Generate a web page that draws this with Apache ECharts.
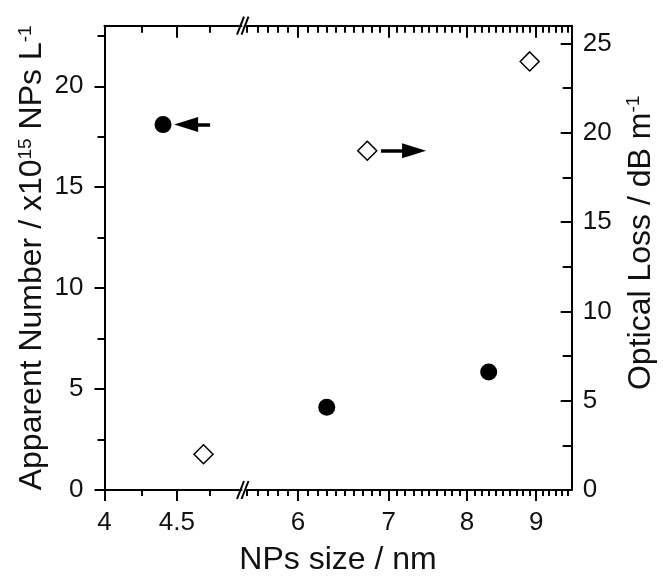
<!DOCTYPE html>
<html><head><meta charset="utf-8">
<script src="https://cdn.jsdelivr.net/npm/echarts@6/dist/echarts.min.js"></script>
<style>html,body{margin:0;padding:0;background:#fff}#c{width:663px;height:579px}</style>
</head><body><div id="c"></div>
<script>
// ---- data ----
const circleSize = [4.4, 6.3, 8.3];          // NPs size / nm (filled circles, left axis)
const apparentNumber = [18.1, 4.1, 5.85];    // x10^15 NPs L^-1
const diamondSize = [4.7, 6.75, 8.9];        // NPs size / nm (open diamonds, right axis)
const opticalLoss = [2.0, 19.0, 24.0];       // dB m^-1

// ---- axes ----
const xLeftRange = [4, 5];
const xRightRange = [5.5, 9.56];
const breakAt = 5.2;
const yLeftRange = [0, 23];
const yRightRange = [0, 26];
const xMajorLeft = [4, 4.5];
const xMinorLeft = [4.25, 4.75];
const xMajorRight = [6, 7, 8, 9];
const xMinorRight = [5.5, 5.6, 5.7, 5.8, 5.9, 6.1, 6.2, 6.3, 6.4, 6.5, 6.6, 6.7, 6.8, 6.9,
  7.1, 7.2, 7.3, 7.4, 7.5, 7.6, 7.7, 7.8, 7.9, 8.1, 8.2, 8.3, 8.4, 8.5, 8.6, 8.7, 8.8, 8.9,
  9.1, 9.2, 9.3, 9.4, 9.5];
const yLeftMajor = [0, 5, 10, 15, 20];
const yLeftMinor = [2.5, 7.5, 12.5, 17.5, 22.5];
const yRightMajor = [0, 5, 10, 15, 20, 25];
const yRightMinor = [2.5, 7.5, 12.5, 17.5, 22.5];

// ---- arrow annotations (data coords) ----
const arrowLeftX = [4.751, 4.569];
const arrowLeftY = [18.1, 18.1];
const arrowRightX = [6.909, 7.31];
const arrowRightY = [19, 19];

const L = v => Math.log10(v);
const FONT = "'Liberation Sans', Arial, sans-serif";
const INK = '#111';
const fmt = v => String(Math.round(Math.pow(10, v) * 100) / 100);

function xAx(grid, range, pos, ticks, len, inside, line, labels) {
  return {
    type: 'value', gridIndex: grid, position: pos,
    min: L(range[0]), max: L(range[1]),
    splitLine: { show: false },
    axisLine: { show: line, onZero: false, lineStyle: { color: '#000', width: 2 } },
    axisTick: { show: true, customValues: ticks.map(L), length: len, inside: inside,
      lineStyle: { color: '#000', width: 2 } },
    axisLabel: labels ? { show: true, customValues: ticks.map(L), formatter: fmt,
      fontSize: 26, color: INK, margin: 20, fontFamily: FONT } : { show: false }
  };
}
function yAx(grid, range, pos, ticks, len, inside, line, labels, margin, extra) {
  return Object.assign({
    type: 'value', gridIndex: grid, position: pos,
    min: range[0], max: range[1],
    splitLine: { show: false },
    axisLine: { show: line, onZero: false, lineStyle: { color: '#000', width: 2 } },
    axisTick: { show: true, customValues: ticks, length: len, inside: inside,
      lineStyle: { color: '#000', width: 2 } },
    axisLabel: labels ? { show: true, customValues: ticks,
      fontSize: 26, color: INK, margin: margin, fontFamily: FONT } : { show: false }
  }, extra || {});
}
function hiddenY(grid, range) {
  return { type: 'value', gridIndex: grid, min: range[0], max: range[1], show: false,
    splitLine: { show: false }, axisLine: { onZero: false } };
}

const richName = {
  a: { fontSize: 32, fontFamily: FONT, color: INK },
  sup: { fontSize: 19, fontFamily: FONT, color: INK, verticalAlign: 'top', padding: [0, 0, 8, 0] }
};

const leftPts = (xs, ys) => xs.map((x, i) => [x, ys[i]]).filter(p => p[0] < breakAt).map(p => [L(p[0]), p[1]]);
const rightPts = (xs, ys) => xs.map((x, i) => [x, ys[i]]).filter(p => p[0] >= breakAt).map(p => [L(p[0]), p[1]]);

const arrowLine = (xs, ys) => ({
  silent: true, animation: false, symbol: ['none', 'triangle'], symbolSize: 18,
  lineStyle: { color: '#000', width: 3.5, type: 'solid', opacity: 1 }, label: { show: false },
  itemStyle: { color: '#000' },
  emphasis: { disabled: true },
  data: [[{ coord: [L(xs[0]), ys[0]], symbol: 'none' },
          { coord: [L(xs[1]), ys[1]], symbol: 'triangle', symbolSize: [15, 24] }]]
});

const gTop = 25.7, gBottom = 89;
const option = {
  animation: false,
  backgroundColor: '#fff',
  grid: [
    { left: 104.5, top: gTop, width: 137, bottom: gBottom, containLabel: false, outerBoundsMode: 'none' },
    { left: 247, top: gTop, right: 663 - 571.7, bottom: gBottom, containLabel: false, outerBoundsMode: 'none' }
  ],
  xAxis: [
    xAx(0, xLeftRange, 'bottom', xMajorLeft, 11, false, true, true),
    xAx(0, xLeftRange, 'bottom', xMinorLeft, 6, false, false, false),
    xAx(0, xLeftRange, 'top', xMajorLeft, 12, true, true, false),
    xAx(0, xLeftRange, 'top', xMinorLeft, 7, true, false, false),
    xAx(1, xRightRange, 'bottom', xMajorRight, 11, false, true, true),
    xAx(1, xRightRange, 'bottom', xMinorRight, 6, false, false, false),
    xAx(1, xRightRange, 'top', xMajorRight, 12, true, true, false),
    xAx(1, xRightRange, 'top', xMinorRight, 7, true, false, false)
  ],
  yAxis: [
    yAx(0, yLeftRange, 'left', yLeftMajor, 10, false, true, true, 21, {
      name: '{a|Apparent Number / x10}{sup|15}{a| NPs L}{sup|-1}',
      nameLocation: 'middle', nameRotate: 90, nameGap: 56, nameMoveOverlap: false,
      nameTextStyle: { rich: richName }
    }),
    yAx(0, yLeftRange, 'left', yLeftMinor, 7, false, false, false, 0),
    hiddenY(0, yRightRange),
    hiddenY(1, yLeftRange),
    yAx(1, yRightRange, 'right', yRightMajor, 11, true, true, true, 11, {
      name: '{a|Optical Loss / dB m}{sup|-1}',
      nameLocation: 'middle', nameRotate: 90, nameGap: 53, nameMoveOverlap: false,
      nameTextStyle: { rich: richName, padding: [0, 0, 0, 30] }
    }),
    yAx(1, yRightRange, 'right', yRightMinor, 9, true, false, false, 0)
  ],
  graphic: [
    { type: 'text', x: 338, y: 560, style: { text: 'NPs size / nm', font: '32px ' + FONT, fill: INK,
      textAlign: 'center', textVerticalAlign: 'middle' } },
    { type: 'line', shape: { x1: 237, y1: 34.7, x2: 244, y2: 16.7 }, style: { stroke: '#000', lineWidth: 2 } },
    { type: 'line', shape: { x1: 241.5, y1: 34.7, x2: 248.5, y2: 16.7 }, style: { stroke: '#000', lineWidth: 2 } },
    { type: 'line', shape: { x1: 237, y1: 499, x2: 244, y2: 481 }, style: { stroke: '#000', lineWidth: 2 } },
    { type: 'line', shape: { x1: 241.5, y1: 499, x2: 248.5, y2: 481 }, style: { stroke: '#000', lineWidth: 2 } }
  ],
  series: [
    {
      type: 'scatter', xAxisIndex: 0, yAxisIndex: 0, symbol: 'circle', symbolSize: 17,
      itemStyle: { color: '#000', opacity: 1 }, emphasis: { disabled: true }, silent: true,
      data: leftPts(circleSize, apparentNumber),
      markLine: arrowLine(arrowLeftX, arrowLeftY)
    },
    {
      type: 'scatter', xAxisIndex: 4, yAxisIndex: 3, symbol: 'circle', symbolSize: 17,
      itemStyle: { color: '#000', opacity: 1 }, emphasis: { disabled: true }, silent: true,
      data: rightPts(circleSize, apparentNumber)
    },
    {
      type: 'scatter', xAxisIndex: 0, yAxisIndex: 2, symbol: 'diamond', symbolSize: 19,
      itemStyle: { color: '#fff', borderColor: '#000', borderWidth: 1.5, opacity: 1 }, emphasis: { disabled: true }, silent: true,
      data: leftPts(diamondSize, opticalLoss)
    },
    {
      type: 'scatter', xAxisIndex: 4, yAxisIndex: 4, symbol: 'diamond', symbolSize: 19,
      itemStyle: { color: '#fff', borderColor: '#000', borderWidth: 1.5, opacity: 1 }, emphasis: { disabled: true }, silent: true,
      data: rightPts(diamondSize, opticalLoss),
      markLine: arrowLine(arrowRightX, arrowRightY)
    }
  ]
};
const chart = echarts.init(document.getElementById('c'), null, { renderer: 'canvas' });
chart.setOption(option);
</script></body></html>
